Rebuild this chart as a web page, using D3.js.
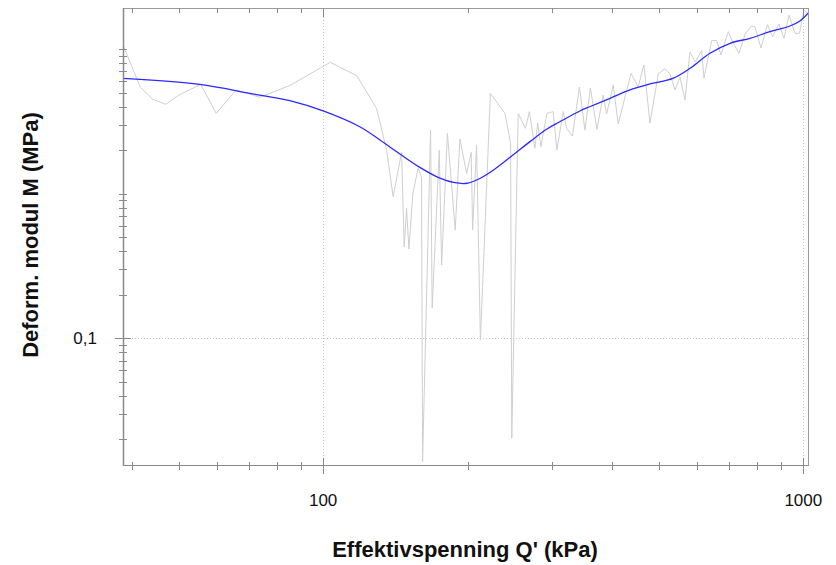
<!DOCTYPE html>
<html><head><meta charset="utf-8">
<script src="https://cdn.jsdelivr.net/npm/d3@7"></script>
<style>body{margin:0;background:#fff}svg{display:block}</style>
</head><body><svg id="c" width="836" height="565"></svg>
<script>
// ---- data ----
const xTitle = "Effektivspenning Q' (kPa)";
const yTitle = "Deform. modul M (MPa)";
const xMajorTicks = [100, 1000];
const xTickLabels = ["100", "1000"];
const xMinorTicks = [40, 50, 60, 70, 80, 90, 200, 300, 400, 500, 600, 700, 800, 900];
const yMajorTicks = [0.1];
const yTickLabels = ["0,1"];
const yMinorTicks = [0.02, 0.03, 0.04, 0.05, 0.06, 0.07, 0.08, 0.09,
  0.2, 0.3, 0.4, 0.5, 0.6, 0.7, 0.8, 0.9, 1, 2, 3, 4, 5, 6, 7, 8, 9, 10];

// raw measured modulus (gray)
const rawQ = [38.3, 41.6, 44.2, 47.0, 50.0, 55.6, 59.9, 65.9, 73.8, 85.2, 103.5, 117.5, 129.2, 135.6, 139.9,
  145.7, 147.5, 149.2, 150.9, 153.8, 157.7, 160.3, 161.1, 167.4, 168.7, 174.5, 176.5, 181.5, 188.4, 192.7,
  199.0, 203.4, 204.8, 208.7, 212.6, 223.0, 239.1, 245.7, 247.1, 254.8, 263.8, 268.9, 276.1, 279.8, 284.1,
  292.4, 301.4, 306.8, 316.2, 321.4, 330.5, 341.8, 350.9, 360.3, 371.7, 383.1, 389.4, 402.0, 411.7, 437.6,
  453.2, 465.7, 479.3, 498.8, 515.1, 527.6, 540.4, 553.5, 567.0, 580.7, 596.2, 614.2, 621.1, 644.4, 660.1,
  673.8, 697.8, 714.8, 734.6, 757.9, 780.0, 793.2, 816.4, 842.3, 862.7, 890.0, 911.6, 933.7, 961.0, 981.9,
  1003.4, 1022.8];
const rawM = [10.66, 5.46, 4.49, 4.15, 4.79, 5.70, 3.59, 5.21, 4.64, 5.59, 8.09, 6.54, 3.89, 2.00, 0.953,
  1.94, 0.428, 0.792, 0.414, 1.006, 1.50, 1.30, 0.01396, 2.75, 0.162, 2.00, 0.321, 2.61, 0.561, 2.39,
  1.38, 1.93, 0.561, 2.17, 0.0973, 4.94, 3.59, 2.23, 0.0204, 3.59, 2.83, 3.69, 2.06, 3.07, 2.11,
  3.59, 3.69, 2.00, 3.69, 2.83, 2.50, 5.46, 2.75, 5.38, 2.78, 4.81, 3.55, 5.64, 3.03, 6.79,
  5.49, 7.75, 3.07, 6.72, 7.31, 6.72, 5.21, 6.40, 4.44, 9.53, 8.13, 9.76, 6.27, 11.41, 11.45,
  9.09, 13.17, 10.95, 9.34, 12.84, 14.42, 14.19, 10.16, 14.77, 12.16, 14.89, 11.86, 17.18, 12.84, 12.84,
  18.60, 17.65];

// smoothed modulus (blue)
const fitQ = [38.25, 55.3, 70.4, 85.2, 100, 119.2, 131.3, 144.5, 159, 175, 188, 199.3, 212.1, 227.9, 248.5,
  269.6, 292, 311, 342.5, 359, 396, 435.5, 479, 535, 581, 639, 704, 774, 852, 938, 984, 1023];
const fitM = [6.27, 5.70, 4.94, 4.39, 3.73, 2.90, 2.35, 1.88, 1.52, 1.28, 1.19, 1.18, 1.273, 1.48, 1.85,
  2.29, 2.79, 3.14, 3.73, 3.99, 4.56, 5.21, 5.73, 6.27, 7.36, 9.34, 10.95, 11.86, 13.17, 14.42, 15.62, 17.66];

// ---- layout ----
const L = 123, R = 808, T = 8, B = 465;
const svg = d3.select("#c");
const x = d3.scaleLog().domain([38.3, 1022.8]).range([L, R]);
const y = d3.scaleLog().domain([0.01331, 19.21]).range([B, T]);
const font = "'Liberation Sans', Arial, Helvetica, sans-serif";
const axisCol = "#8a8a8a";

svg.append("defs").append("clipPath").attr("id", "clip")
  .append("rect").attr("x", L).attr("y", T).attr("width", R - L).attr("height", B - T);

const px = v => Math.round(v) + 0.5;

// grid
const g = svg.append("g").attr("stroke", "#c4c4c4").attr("stroke-dasharray", "1,2").attr("fill", "none");
xMajorTicks.forEach(t => g.append("line").attr("x1", px(x(t))).attr("x2", px(x(t))).attr("y1", T).attr("y2", B));
yMajorTicks.forEach(t => g.append("line").attr("x1", L).attr("x2", R).attr("y1", px(y(t))).attr("y2", px(y(t))));

// data lines
const plot = svg.append("g").attr("clip-path", "url(#clip)");
const raw = rawQ.map((q, i) => [q, rawM[i]]);
const fit = fitQ.map((q, i) => [q, fitM[i]]);
plot.append("path").datum(raw)
  .attr("d", d3.line().x(d => x(d[0])).y(d => y(d[1])))
  .attr("fill", "none").attr("stroke", "#cfcfcf").attr("stroke-width", 1);
plot.append("path").datum(fit)
  .attr("d", d3.line().x(d => x(d[0])).y(d => y(d[1])).curve(d3.curveCatmullRom.alpha(0.5)))
  .attr("fill", "none").attr("stroke", "#2a2aff").attr("stroke-width", 1.3);

// frame
const f = svg.append("g").attr("stroke", axisCol).attr("fill", "none").attr("stroke-width", 1);
f.append("line").attr("x1", L).attr("x2", R + 1).attr("y1", px(T)).attr("y2", px(T)).attr("stroke", "#9a9a9a");
f.append("line").attr("x1", px(R)).attr("x2", px(R)).attr("y1", T).attr("y2", B).attr("stroke", "#9a9a9a");
f.append("line").attr("x1", px(L)).attr("x2", px(L)).attr("y1", T).attr("y2", B + 1).attr("stroke-width", 1.5);
f.append("line").attr("x1", L).attr("x2", R + 1).attr("y1", px(B)).attr("y2", px(B)).attr("stroke-width", 1.2);

// x ticks (bottom & top)
xMinorTicks.forEach(t => {
  const xx = px(x(t));
  f.append("line").attr("x1", xx).attr("x2", xx).attr("y1", B - 3).attr("y2", B + 5);
  f.append("line").attr("x1", xx).attr("x2", xx).attr("y1", T).attr("y2", T + 5);
});
xMajorTicks.forEach(t => {
  const xx = px(x(t));
  f.append("line").attr("x1", xx).attr("x2", xx).attr("y1", B - 7).attr("y2", B + 9);
  f.append("line").attr("x1", xx).attr("x2", xx).attr("y1", T).attr("y2", T + 9);
});
// y ticks (left)
yMinorTicks.forEach(t => {
  const yy = px(y(t));
  f.append("line").attr("x1", L - 4).attr("x2", L + 4).attr("y1", yy).attr("y2", yy);
});
yMajorTicks.forEach(t => {
  const yy = px(y(t));
  f.append("line").attr("x1", L - 8).attr("x2", L + 8).attr("y1", yy).attr("y2", yy);
});

// tick labels
xMajorTicks.forEach((t, i) => svg.append("text").attr("x", x(t)).attr("y", 506)
  .attr("text-anchor", "middle").attr("font-family", font).attr("font-size", 17).attr("fill", "#111")
  .text(xTickLabels[i]));
yMajorTicks.forEach((t, i) => svg.append("text").attr("x", 97).attr("y", y(t) + 6)
  .attr("text-anchor", "end").attr("font-family", font).attr("font-size", 17).attr("fill", "#111")
  .text(yTickLabels[i]));

// titles
svg.append("text").attr("x", 465).attr("y", 557).attr("text-anchor", "middle")
  .attr("font-family", font).attr("font-size", 22).attr("font-weight", "bold").attr("fill", "#111")
  .text(xTitle);
svg.append("text").attr("transform", "translate(38,235) rotate(-90)").attr("text-anchor", "middle")
  .attr("font-family", font).attr("font-size", 22).attr("font-weight", "bold").attr("fill", "#111")
  .text(yTitle);
</script></body></html>
